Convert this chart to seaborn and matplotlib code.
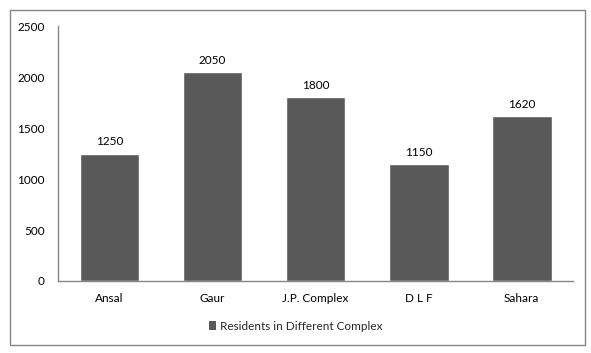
import numpy as np
import pandas as pd
import matplotlib
matplotlib.use("Agg")
import matplotlib.pyplot as plt
import seaborn as sns
from matplotlib.patches import Rectangle, Patch

complexes = ["Ansal", "Gaur", "J.P. Complex", "D L F", "Sahara"]
residents = [1250, 2050, 1800, 1150, 1620]
series_name = "Residents in Different Complex"

sns.set_style("white")
plt.rcParams['font.family'] = ['Lato', 'DejaVu Sans']

df = pd.DataFrame({"complex": complexes, "residents": residents})

fig = plt.figure(figsize=(5.91, 3.53), dpi=100)
ax = fig.add_axes([0.098, 0.204, 0.872, 0.722])

bar_color = "#595959"
sns.barplot(data=df, x="complex", y="residents", color=bar_color,
            width=0.58, saturation=1, ax=ax)

for i, v in enumerate(residents):
    ax.text(i, v + 60, str(v), ha="center", va="bottom", fontsize=8.5, color="black")

ax.set_ylim(0, 2500)
ax.set_yticks(np.arange(0, 2501, 500))
ax.set_xlim(-0.5, len(complexes) - 0.5)
ax.set_xlabel("")
ax.set_ylabel("")
ax.tick_params(axis="both", labelsize=8.5, length=0, colors="black")
ax.tick_params(axis="y", pad=9.5)
ax.tick_params(axis="x", pad=9)

for side in ["top", "right"]:
    ax.spines[side].set_visible(False)
for side in ["left", "bottom"]:
    ax.spines[side].set_color("#868686")
    ax.spines[side].set_linewidth(1)

handle = Patch(facecolor=bar_color, edgecolor="none")
fig.legend([handle], [series_name], loc="center", bbox_to_anchor=(0.5, 0.075),
           frameon=False, fontsize=8.5, handlelength=0.6, handleheight=0.8,
           handletextpad=0.3)

fig.patches.append(Rectangle((10 / 591, 8 / 353), 575 / 591, 335 / 353,
                             transform=fig.transFigure, fill=False,
                             edgecolor="#868686", linewidth=1))

fig.savefig("out.png", dpi=100)
